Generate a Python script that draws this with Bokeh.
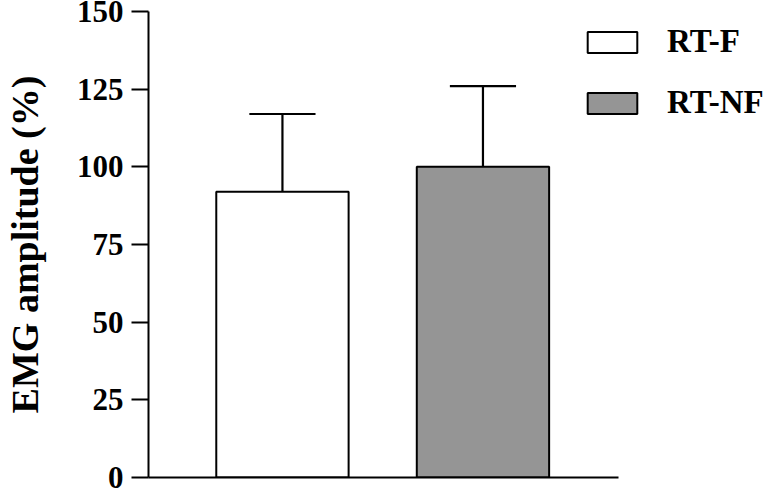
from bokeh.plotting import figure
from bokeh.models import Range1d, FixedTicker, Legend, LegendItem, ColumnDataSource
from bokeh.embed import file_html
from bokeh.resources import INLINE

groups = ["RT-F", "RT-NF"]
positions = [1, 2]
means = [92, 100]
errors = [25, 26]
colors = ["#ffffff", "#959595"]
y_ticks = [0, 25, 50, 75, 100, 125, 150]

FONT = "Liberation Serif"

p = figure(width=771, height=490, output_backend="svg", toolbar_location=None,
           x_range=Range1d(0.332, 3.439), y_range=Range1d(0, 150),
           min_border_left=148, min_border_right=0, min_border_top=11,
           min_border_bottom=13)
p.outline_line_color = None
p.grid.visible = False
p.background_fill_color = "white"
p.border_fill_color = "white"

bar_w = 0.66
cap_half = 0.165
tops = [m + e for m, e in zip(means, errors)]
src = ColumnDataSource(dict(x=positions, top=means, color=colors, label=groups,
                            etop=tops, cl=[x - cap_half for x in positions],
                            cr=[x + cap_half for x in positions]))

p.segment(x0="x", y0="top", x1="x", y1="etop", source=src, line_color="black", line_width=2.2)
p.segment(x0="cl", y0="etop", x1="cr", y1="etop", source=src, line_color="black", line_width=2.2)
bars = p.vbar(x="x", top="top", bottom=0, width=bar_w, source=src,
              fill_color="color", line_color="black", line_width=2)

# axes
yax = p.yaxis[0]
yax.ticker = FixedTicker(ticks=y_ticks)
yax.axis_label = "EMG amplitude (%)"
yax.axis_label_text_font = FONT
yax.axis_label_text_font_style = "bold"
yax.axis_label_text_font_size = "38px"
yax.axis_label_text_color = "black"
yax.axis_label_standoff = 28
yax.major_label_text_font = FONT
yax.major_label_text_font_style = "bold"
yax.major_label_text_font_size = "31px"
yax.major_label_text_color = "black"
yax.major_label_standoff = 8
yax.major_tick_out = 17
yax.major_tick_in = 0
yax.minor_tick_out = 0
yax.minor_tick_in = 0
yax.axis_line_width = 2
yax.major_tick_line_width = 2
yax.axis_line_color = "black"
yax.major_tick_line_color = "black"

xax = p.xaxis[0]
xax.ticker = FixedTicker(ticks=[])
xax.bounds = (0.332, 2.676)
xax.major_label_text_font_size = "0px"
xax.major_tick_out = 0
xax.major_tick_in = 0
xax.minor_tick_out = 0
xax.minor_tick_in = 0
xax.axis_line_width = 2
xax.axis_line_color = "black"

legend = Legend(items=[LegendItem(label=groups[i], renderers=[bars], index=i) for i in range(2)],
                location=(433, 356), orientation="vertical",
                glyph_width=62, glyph_height=26, label_standoff=24, spacing=24,
                padding=0, margin=0, border_line_color=None, background_fill_alpha=0,
                label_text_font=FONT, label_text_font_style="bold",
                label_text_font_size="33px", label_text_color="black")
p.add_layout(legend, "center")

html = file_html(p, INLINE)
open("out.html", "w").write(html)
